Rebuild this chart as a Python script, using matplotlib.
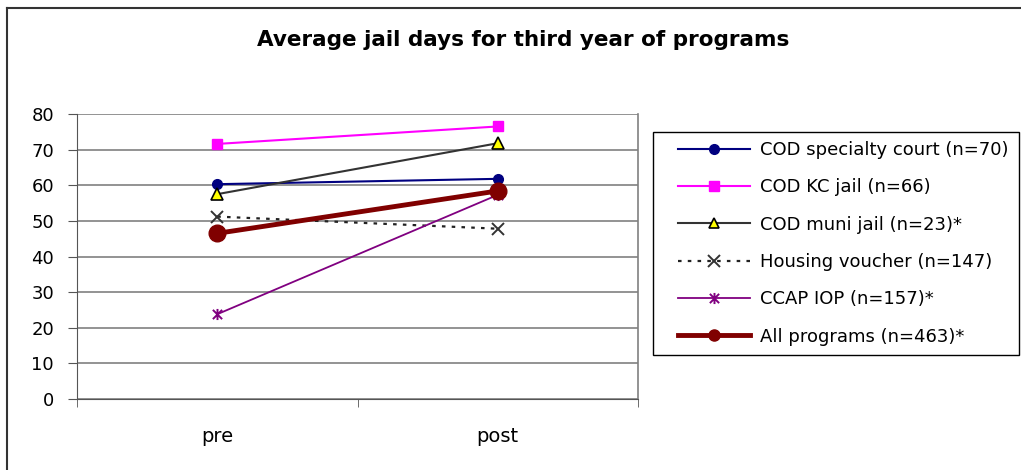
import numpy as np
import matplotlib
matplotlib.use("Agg")
import matplotlib.pyplot as plt
from matplotlib.path import Path
from matplotlib.lines import Line2D
from matplotlib.patches import Rectangle

plt.rcParams["font.family"] = ["DejaVu Sans"]

categories = ["pre", "post"]
labels = ["COD specialty court (n=70)", "COD KC jail (n=66)", "COD muni jail (n=23)*",
          "Housing voucher (n=147)", "CCAP IOP (n=157)*", "All programs (n=463)*"]
specialty = [60.3, 61.8]
kc_jail = [71.6, 76.5]
muni_jail = [57.5, 71.8]
housing = [51.2, 47.8]
ccap = [23.8, 57.3]
all_prog = [46.5, 58.4]

W, H = 1021, 470

# Excel-style asterisk marker: X plus vertical stroke
star = Path([(-1, -1), (1, 1), (-1, 1), (1, -1), (0, -1.2), (0, 1.2)],
            [Path.MOVETO, Path.LINETO, Path.MOVETO, Path.LINETO, Path.MOVETO, Path.LINETO])

fig = plt.figure(figsize=(W / 100, H / 100), dpi=100)
ax = fig.add_axes([77 / W, 1 - 399 / H, (638 - 77) / W, (399 - 114) / H])
x = np.array([0.5, 1.5])

ax.plot(x, specialty, color="#000080", lw=1.5, marker="o", ms=7, mfc="#000080", mec="#000080", label=labels[0])
ax.plot(x, kc_jail, color="#ff00ff", lw=1.5, marker="s", ms=7, mfc="#ff00ff", mec="#ff00ff", label=labels[1])
ax.plot(x, muni_jail, color="#333333", lw=1.5, marker="^", ms=8, mfc="#ffff00", mec="#000000", mew=1.2, label=labels[2])
ax.plot(x, housing, color="#222222", lw=1.6, dashes=(1.6, 2.8), marker="x", ms=8, mec="#333333", mew=1.4, label=labels[3])
ax.plot(x, ccap, color="#800080", lw=1.3, marker=star, ms=8, mfc="none", mec="#800080", mew=1.4, label=labels[4])
ax.plot(x, all_prog, color="#800000", lw=3.5, marker="o", ms=12, mfc="#800000", mec="#800000", label=labels[5])

ax.set_xlim(0, 2)
ax.set_ylim(0, 80)
ax.set_yticks(np.arange(0, 81, 10))
ax.yaxis.grid(True, color="#808080", lw=1.2)
ax.set_axisbelow(True)
ax.set_xticks(x)
ax.set_xticklabels(categories, fontsize=14)
ax.set_xticks([0, 1, 2], minor=True)
ax.tick_params(axis="x", which="major", length=0, pad=20)
ax.tick_params(axis="x", which="minor", length=6, direction="out", color="#555555")
ax.tick_params(axis="y", length=6.5, direction="out", color="#555555", labelsize=13, pad=10)
ax.spines["top"].set_visible(False)
ax.spines["right"].set_color("#808080")
ax.spines["right"].set_linewidth(1.2)
ax.spines["left"].set_color("#555555")
ax.spines["bottom"].set_color("#555555")

fig.text(523 / W, 1 - 40 / H, "Average jail days for third year of programs", ha="center", va="center",
         fontsize=15.5, fontweight="bold")

# legend frame drawn separately so the inner padding can match
fig.add_artist(Rectangle((653 / W, 1 - 355 / H), (1019 - 653) / W, (355 - 132) / H,
                         transform=fig.transFigure, fill=False, edgecolor="#000000", lw=1.0))
leg = fig.legend(loc="upper left", bbox_to_anchor=(678 / W, 1 - 141 / H), fontsize=13, frameon=False,
                 handlelength=4.0, handletextpad=0.55, labelspacing=1.07, borderpad=0, borderaxespad=0)
leg.legend_handles[5].set_markersize(8)
leg.legend_handles[2].set_markersize(7)

# outer chart border (left and top visible)
fig.add_artist(Line2D([7 / W, 7 / W], [0, 1 - 8 / H], color="#333333", lw=1.5))
fig.add_artist(Line2D([7 / W, 1], [1 - 8 / H, 1 - 8 / H], color="#333333", lw=1.5))

fig.savefig("out.png", dpi=100)
